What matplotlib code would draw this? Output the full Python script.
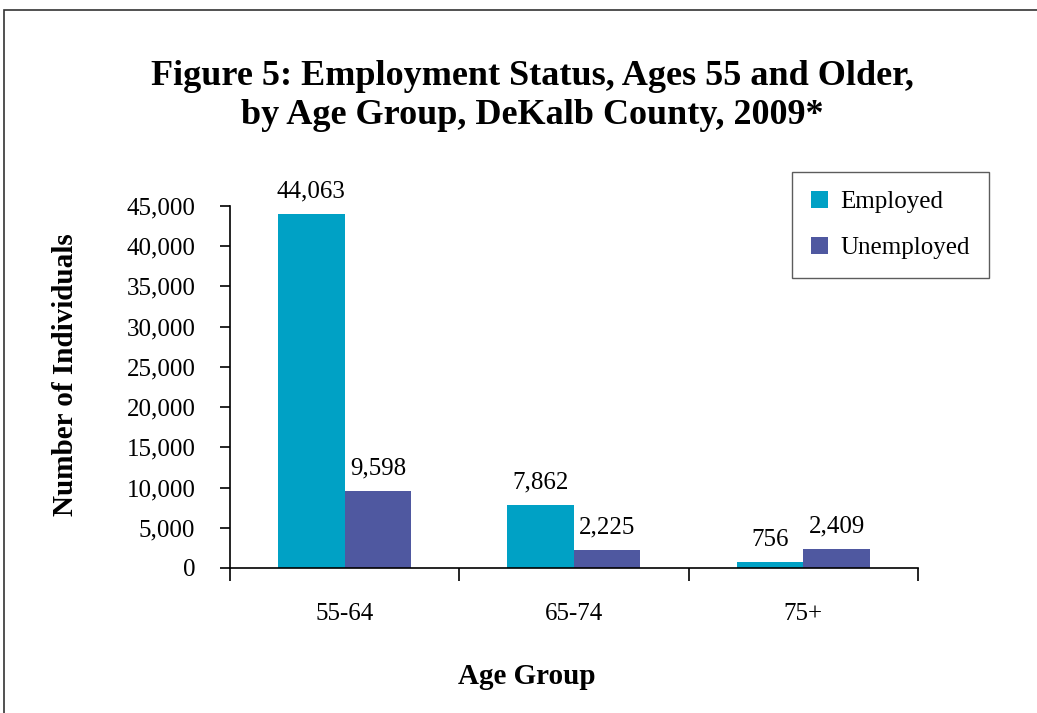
import numpy as np
import matplotlib.pyplot as plt
from matplotlib.patches import Rectangle

# ── Data ──────────────────────────────────────────────────────
age_groups = ['55-64', '65-74', '75+']
employed = [44063, 7862, 756]
unemployed = [9598, 2225, 2409]
y_ticks = [0, 5000, 10000, 15000, 20000, 25000, 30000, 35000, 40000, 45000]

plt.rcParams['font.family'] = ['Liberation Serif', 'DejaVu Serif']

fig = plt.figure(figsize=(10.37, 7.13), dpi=100)
ax = fig.add_axes([0.2218, 0.2034, 0.6634, 0.5077])

# outer frame
fig.patches.append(Rectangle((0.004, -0.1), 1.2, 1.086, transform=fig.transFigure,
                             fill=False, edgecolor='#333333', linewidth=1.2))

x = np.arange(len(age_groups))
w = 0.29
b1 = ax.bar(x - w / 2, employed, w, color='#00A1C5', label='Employed')
b2 = ax.bar(x + w / 2, unemployed, w, color='#4F58A0', label='Unemployed')

for bars, vals in [(b1, employed), (b2, unemployed)]:
    for bar, v in zip(bars, vals):
        ax.text(bar.get_x() + bar.get_width() / 2, v + 1400, f'{v:,}',
                ha='center', va='bottom', fontsize=18)

ax.set_xlim(-0.5, 2.5)
ax.set_ylim(0, 45000)
ax.set_yticks(y_ticks)
ax.set_yticklabels([f'{t:,}' for t in y_ticks], fontsize=18)
ax.tick_params(axis='y', direction='out', length=7, width=1.2, pad=18)

# category boundaries as ticks, labels at group centres
ax.set_xticks([-0.5, 0.5, 1.5, 2.5])
ax.set_xticklabels([])
ax.set_xticks(x, minor=True)
ax.set_xticklabels(age_groups, minor=True, fontsize=18)
ax.tick_params(axis='x', which='major', direction='out', length=9, width=1.2)
ax.tick_params(axis='x', which='minor', length=0, pad=25)

for side in ['top', 'right']:
    ax.spines[side].set_visible(False)
for side in ['left', 'bottom']:
    ax.spines[side].set_linewidth(1.2)

fig.text(0.063, 0.474, 'Number of Individuals', rotation=90, ha='center', va='center',
         fontsize=21, fontweight='bold')
fig.text(0.508, 0.0505, 'Age Group', ha='center', va='center',
         fontsize=21, fontweight='bold')

fig.text(0.513, 0.865, 'Figure 5: Employment Status, Ages 55 and Older,\nby Age Group, DeKalb County, 2009*',
         ha='center', va='center', fontsize=26, fontweight='bold', linespacing=1.25)

leg = ax.legend(loc='upper left', bbox_to_anchor=(0.7637, 0.7588),
                bbox_transform=fig.transFigure, fontsize=18,
                frameon=True, fancybox=False, edgecolor='#333333', handlelength=0.7,
                handleheight=0.7, borderpad=0.75, labelspacing=0.95, handletextpad=0.5,
                borderaxespad=0)
leg.get_frame().set_linewidth(1.0)

fig.savefig('out.png', dpi=100)
